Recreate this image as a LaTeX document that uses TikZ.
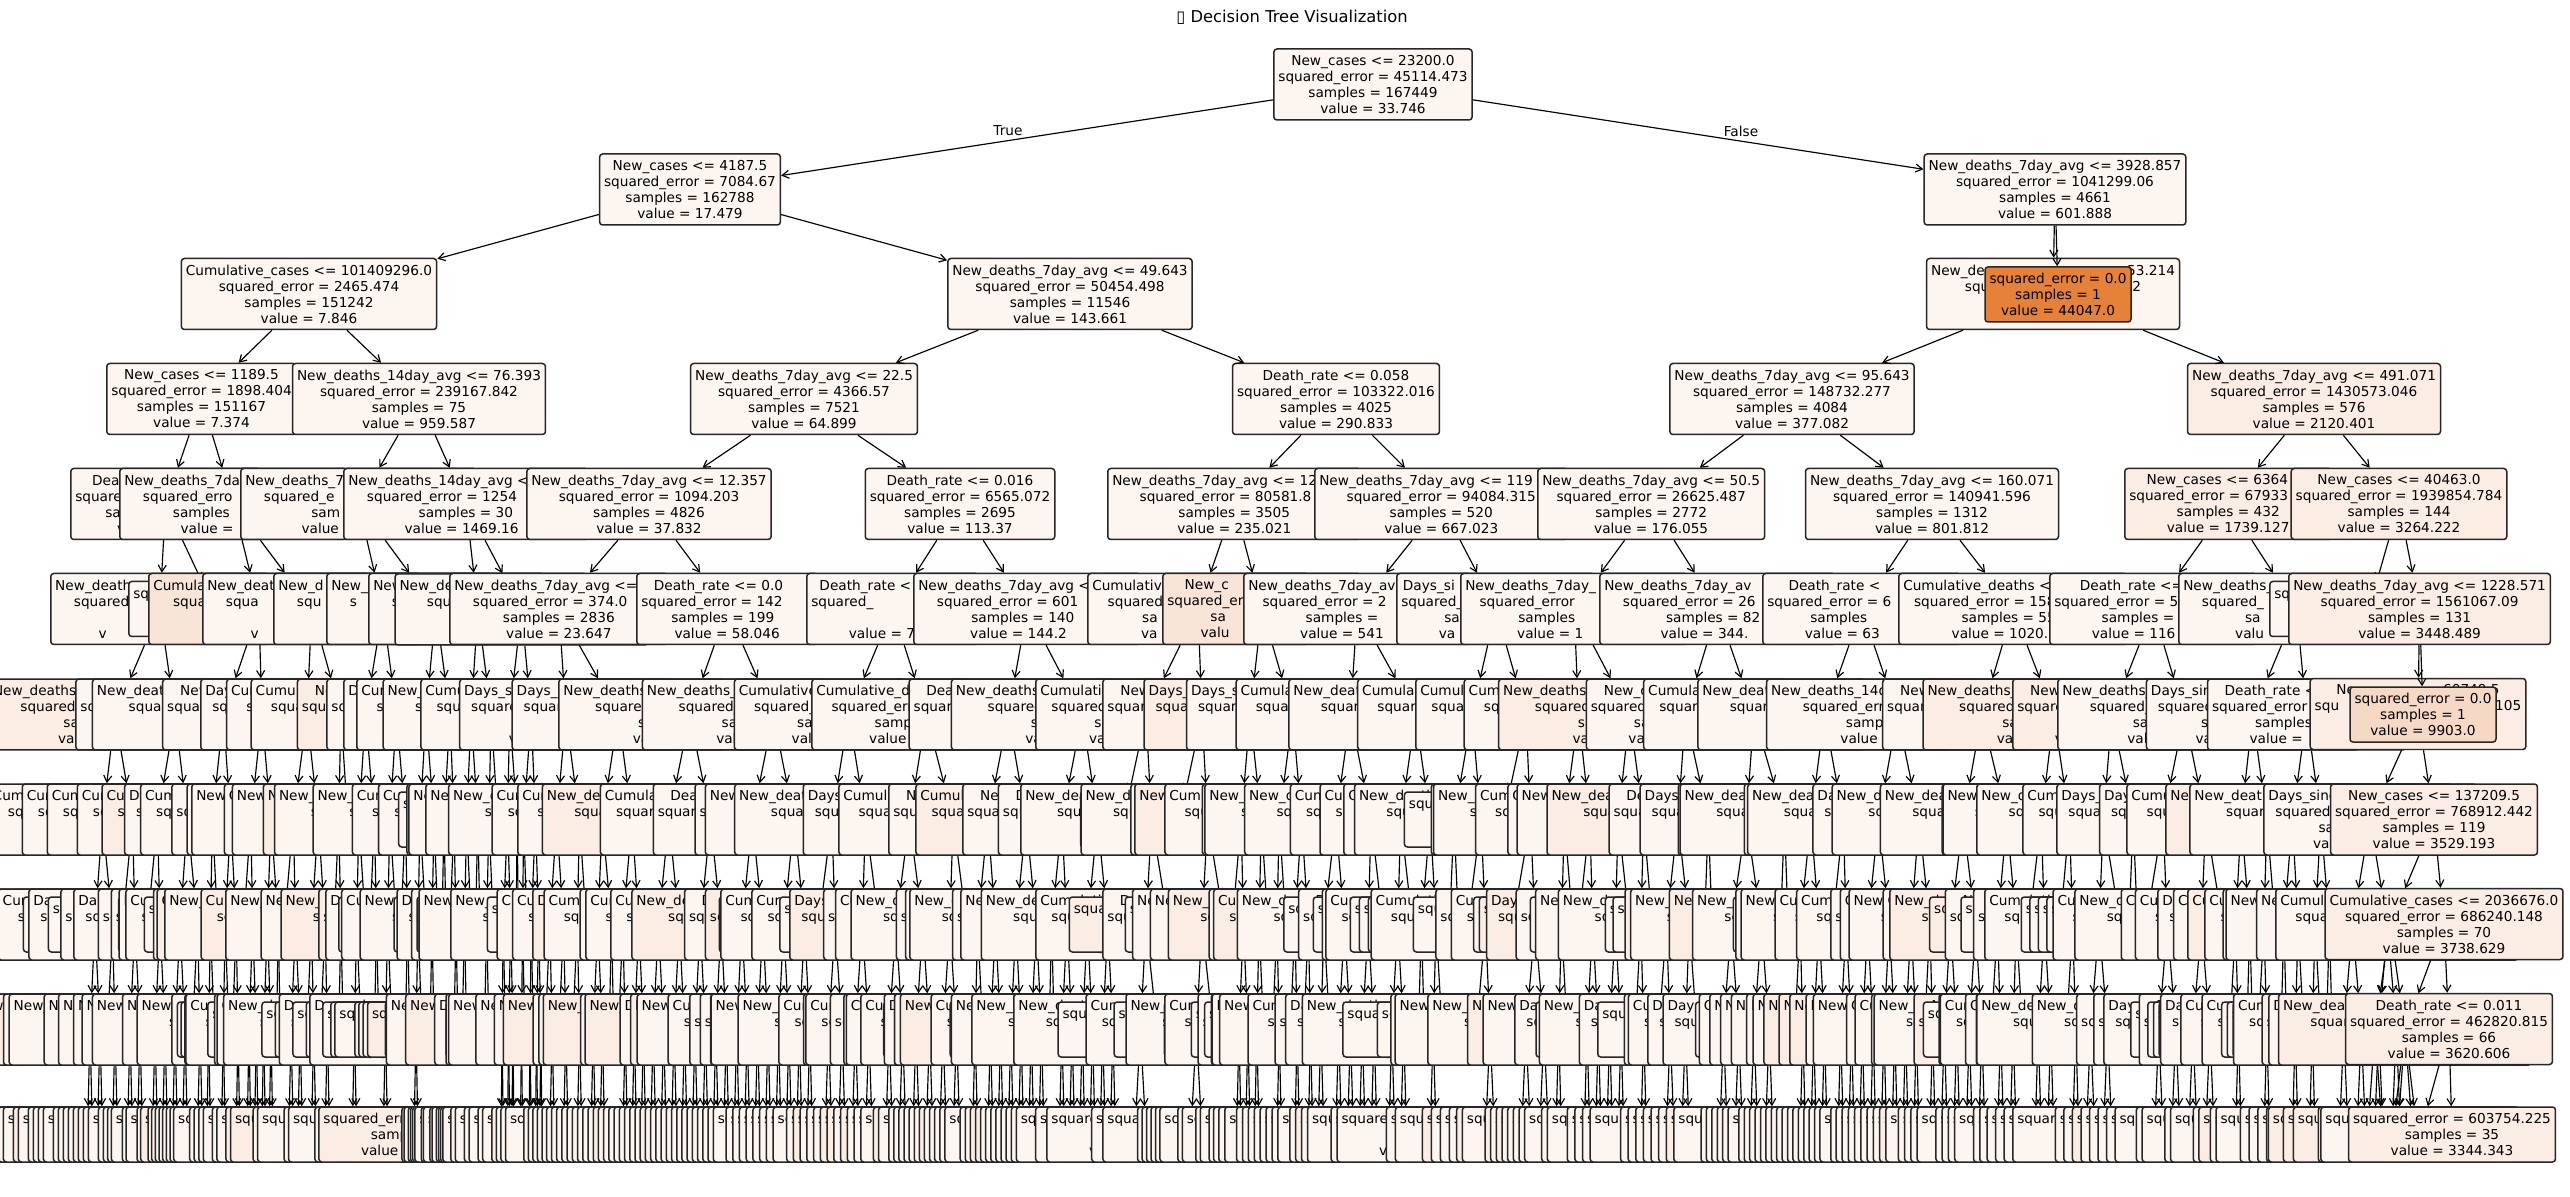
\documentclass[tikz,border=0pt]{standalone}
\usepackage{fontspec}
\setmainfont{DejaVu Sans}
\usetikzlibrary{arrows.meta}
\definecolor{tint}{HTML}{FCF5F0}
\definecolor{tintb}{HTML}{FBEDE3}
\definecolor{tintc}{HTML}{F9E5D7}
\definecolor{tintd}{HTML}{F6D9C4}
\definecolor{maxo}{HTML}{E58139}
\newcommand\fsN{\fontsize{4.1}{4.8}\selectfont}
\newcommand\fsT{\fontsize{4.9}{6}\selectfont}
\newcommand\hid[1]{\phantom{#1}}
% text of the deep nodes (mostly covered by their right neighbour)
\newcommand\feat[1]{\ifcase#1 New\_deaths\_7day\_avg\or Cumulative\_cases\or New\_cases\or New\_deaths\_14day\_avg\or Death\_rate\or Cumulative\_deaths\or Days\_since\_\hid{start}\else New\_deaths\_7day\_avg\fi}
\newcommand\itxt[1]{\feat{#1} <= \hid{000.000}\\squared\_error = \hid{00000.000}\\samples = \hid{000}\\value = \hid{000.000}}
\newcommand\ltxt{squared\_error = \hid{00000.000}\\samples = \hid{00}\\value = \hid{000.000}}
% pass 1: shape of a deep subtree (leaf flags, feature, fill, leaf count)
\newcommand\build[3]{% #1 path, #2 level, #3 chance to split below level 7
  \pgfmathsetmacro\kr{rnd}%
  \pgfmathtruncatemacro\kleaf{((#2>9) || ((#2>6) && (\kr>((#2==7) ? 0.9 : #3)))) ? 1 : 0}%
  \pgfmathtruncatemacro\kf{int(7*rnd)}%
  \pgfmathsetmacro\kr{rnd}%
  \expandafter\xdef\csname lf@#1\endcsname{\kleaf}%
  \expandafter\xdef\csname ft@#1\endcsname{\kf}%
  \expandafter\xdef\csname cl@#1\endcsname{\ifdim\kr pt>0.88pt tintb\else tint\fi}%
  \ifnum\kleaf=1
    \expandafter\xdef\csname nl@#1\endcsname{1}\let\next\relax
  \else
    \edef\next{\noexpand\build{#1a}{\the\numexpr#2+1\relax}{#3}%
      \noexpand\build{#1b}{\the\numexpr#2+1\relax}{#3}\noexpand\sumup{#1}}%
  \fi
  \next}
\newcommand\sumup[1]{\expandafter\xdef\csname nl@#1\endcsname{\the\numexpr\csname nl@#1a\endcsname+\csname nl@#1b\endcsname\relax}}
% pass 2: split the interval of a node by the leaf counts of its children
\newcommand\place[4]{% #1 path, #2 level, #3 a, #4 b
  \edef\na{\csname nl@#1a\endcsname}\edef\nn{\csname nl@#1\endcsname}%
  \pgfmathsetmacro\qm{#3+(#4-#3)*\na/\nn}%
  \edef\next{\noexpand\kid{#1}{a}{\the\numexpr#2+1\relax}{#3}{\qm}%
    \noexpand\kid{#1}{b}{\the\numexpr#2+1\relax}{\qm}{#4}}%
  \next}
\newcommand\kid[5]{% #1 parent, #2 tag, #3 level, #4 a, #5 b
  \pgfmathsetmacro\kx{(#4+#5)/2}%
  \pgfmathsetmacro\ky{84.5+105*#3}%
  \edef\kcol{\csname cl@#1#2\endcsname}%
  \ifnum\csname lf@#1#2\endcsname=1 \let\ktxt\ltxt\def\kstyle{lbox}%
  \else\edef\kf{\csname ft@#1#2\endcsname}\def\ktxt{\itxt{\kf}}\def\kstyle{tbox}\fi
  \node[\kstyle,fill=\kcol] (#1#2) at (\kx,\ky) {\ktxt};
  \draw[arr] (#1) -- (#1#2);
  \ifnum\csname lf@#1#2\endcsname=0 \edef\next{\noexpand\place{#1#2}{#3}{#4}{#5}}\else\let\next\relax\fi
  \next}
% a level-5 subtree: the wider its interval, the fuller it grows
\newcommand\growin[3]{\pgfmathsetmacro\gq{min(0.95,sqrt((#3-#2)/230))}%
  \edef\next{\noexpand\build{#1}{5}{\gq}}\next\place{#1}{5}{#2}{#3}}
\newcommand\branch[5]{\build{#1#2}{#3}{0.8}\kid{#1}{#2}{#3}{#4}{#5}}

\begin{document}
\begin{tikzpicture}[x=0.3pt,y=-0.3pt,
  tbox/.style={draw=black!85,line width=0.45pt,rounded corners=0.9pt,fill=tint,
    font=\fsN,align=center,inner xsep=1.35pt,inner ysep=0pt,minimum height=21.3pt},
  lbox/.style={tbox,minimum height=16.5pt},
  arr/.style={line width=0.35pt,-{Straight Barb[length=2pt,width=2.4pt]}},
  lab/.style={font=\fsN,inner sep=0}]
\pgfmathsetseed{23}
\fill[white] (0,0) rectangle (2570,1197);
\useasboundingbox (0,0) rectangle (2570,1197);
\node[font=\fsT,inner sep=0] (title) at (1292,17) {▯ Decision Tree Visualization};
% ============ levels 0-2 ============
\node[tbox] (root) at (1373,84.5) {New\_cases <= 23200.0\\squared\_error = 45114.473\\samples = 167449\\value = 33.746};
\node[tbox] (t1) at (690,189.5) {New\_cases <= 4187.5\\squared\_error = 7084.67\\samples = 162788\\value = 17.479};
\node[tbox] (f1) at (2055,189.5) {New\_deaths\_7day\_avg <= 3928.857\\squared\_error = 1041299.06\\samples = 4661\\value = 601.888};
\draw[arr] (root) -- (t1);
\draw[arr] (root) -- (f1);
\node[lab] (ltrue) at (1008,131) {True};
\node[lab] (lfalse) at (1741,131) {False};
\node[tbox] (t2a) at (309,294) {Cumulative\_cases <= 101409296.0\\squared\_error = 2465.474\\samples = 151242\\value = 7.846};
\node[tbox] (t2b) at (1070,294) {New\_deaths\_7day\_avg <= 49.643\\squared\_error = 50454.498\\samples = 11546\\value = 143.661};
\node[tbox] (f2a) at (2053,294) {New\_de\hid{aths\_7day\_avg <= 2}53.214\\squa\hid{red\_error = 1041}452\\\hid{samples = 4660}\\\hid{value = 400.000}};
\draw[arr] (t1) -- (t2a);
\draw[arr] (t1) -- (t2b);
\draw[arr] (f1) -- (f2a);
% ============ level 3 ============
\node[tbox,anchor=west] (t3a) at (106,399) {New\_cases <= 1189.5\\squared\_error = 1898.404\\samples = 151167\\value = 7.374};
\node[tbox] (t3b) at (419,399) {New\_deaths\_14day\_avg <= 76.393\\squared\_error = 239167.842\\samples = 75\\value = 959.587};
\node[tbox] (t3c) at (804,399) {New\_deaths\_7day\_avg <= 22.5\\squared\_error = 4366.57\\samples = 7521\\value = 64.899};
\node[tbox] (t3d) at (1336,399) {Death\_rate <= 0.058\\squared\_error = 103322.016\\samples = 4025\\value = 290.833};
\node[tbox] (f3a) at (1792,399) {New\_deaths\_7day\_avg <= 95.643\\squared\_error = 148732.277\\samples = 4084\\value = 377.082};
\node[tbox,fill=tintb] (f3b) at (2314,399) {New\_deaths\_7day\_avg <= 491.071\\squared\_error = 1430573.046\\samples = 576\\value = 2120.401};
\draw[arr] (t2a) -- (t3a);
\draw[arr] (t2a) -- (t3b);
\draw[arr] (t2b) -- (t3c);
\draw[arr] (t2b) -- (t3d);
\draw[arr] (f2a) -- (f3a);
\draw[arr] (f2a) -- (f3b);
% ============ level 4 ============
\node[tbox,anchor=west] (t4a) at (70,504) {Death\hid{\_rate <= 0.003}\\square\hid{d\_error = 1234.567}\\sam\hid{ples = 12345}\\v\hid{alue = 12.34}};
\node[tbox,anchor=west] (t4b) at (119,504) {New\_deaths\_7da\hid{y\_avg <= 12.5}\\squared\_erro\hid{r = 1234.567}\\samples\hid{ = 12345}\\value =\hid{ 12.345}};
\node[tbox,anchor=west] (t4c) at (240,504) {New\_deaths\_7\hid{day\_avg <= 112.5}\\squared\_e\hid{rror = 12345.678}\\sam\hid{ples = 45}\\value\hid{ = 400.100}};
\node[tbox,anchor=west] (t4d) at (343,504) {New\_deaths\_14day\_avg <\hid{= 100.5}\\squared\_error = 1254\hid{00.000}\\samples = 30\\value = 1469.16\hid{7}};
\node[tbox] (t4e) at (649,504) {New\_deaths\_7day\_avg <= 12.357\\squared\_error = 1094.203\\samples = 4826\\value = 37.832};
\node[tbox] (t4f) at (960,504) {Death\_rate <= 0.016\\squared\_error = 6565.072\\samples = 2695\\value = 113.37};
\node[tbox,anchor=west] (t4g) at (1107,504) {New\_deaths\_7day\_avg <= 12\hid{3.500}\\squared\_error = 80581.8\hid{00}\\samples = 3505\\value = 235.021};
\node[tbox,anchor=west] (t4h) at (1314,504) {New\_deaths\_7day\_avg <= 119\hid{.500}\\squared\_error = 94084.315\\samples = 520\\value = 667.023};
\node[tbox,anchor=west] (f4a) at (1537,504) {New\_deaths\_7day\_avg <= 50.5\\squared\_error = 26625.487\\samples = 2772\\value = 176.055};
\node[tbox] (f4b) at (1932,504) {New\_deaths\_7day\_avg <= 160.071\\squared\_error = 140941.596\\samples = 1312\\value = 801.812};
\node[tbox,anchor=west,fill=tintb] (f4c) at (2124,504) {New\_cases <= 6364\hid{8.5}\\squared\_error = 67933\hid{0.000}\\samples = 432\\value = 1739.127};
\node[tbox,fill=tintb] (f4d) at (2399,504) {New\_cases <= 40463.0\\squared\_error = 1939854.784\\samples = 144\\value = 3264.222};
\draw[arr] (t3a) -- (t4a);
\draw[arr] (t3a) -- (t4b);
\draw[arr] (t3b) -- (t4c);
\draw[arr] (t3b) -- (t4d);
\draw[arr] (t3c) -- (t4e);
\draw[arr] (t3c) -- (t4f);
\draw[arr] (t3d) -- (t4g);
\draw[arr] (t3d) -- (t4h);
\draw[arr] (f3a) -- (f4a);
\draw[arr] (f3a) -- (f4b);
\draw[arr] (f3b) -- (f4c);
\draw[arr] (f3b) -- (f4d);
% ============ level 5, each with its subtree ============
\node[tbox,anchor=west] (p1) at (50,609) {New\_death\hid{s\_7day\_avg <= 0.5}\\squared\hid{\_error = 100.000}\\\hid{samples = 10}\\v\hid{alue = 1000.000}};
\draw[arr] (t4a) -- (p1); \growin{p1}{85}{205}
\node[lbox,anchor=west] (p2) at (128,609) {sq\hid{uared\_error = 12.000}\\\hid{samples = 3}\\\hid{value = 10.0}};
\draw[arr] (t4a) -- (p2);
\node[tbox,anchor=west,fill=tintc] (p3) at (148,609) {Cumula\hid{tive\_cases <= 12345.0}\\square\hid{d\_error = 123.456}\\\hid{samples = 12}\\\hid{value = 1.0}};
\draw[arr] (t4b) -- (p3); \growin{p3}{205}{282}
\node[tbox,anchor=west] (p4) at (202,609) {New\_deat\hid{hs\_7day\_avg <= 1.5}\\squa\hid{red\_error = 123.456}\\\hid{samples = 12}\\v\hid{alue = 1000.500}};
\draw[arr] (t4b) -- (p4); \growin{p4}{282}{350}
\node[tbox,anchor=west] (p5) at (273,609) {New\_d\hid{eaths\_7day\_avg <= 1.5}\\squ\hid{ared\_error = 123.456}\\\hid{samples = 12}\\\hid{value = 1.5}};
\draw[arr] (t4c) -- (p5); \growin{p5}{350}{412}
\node[tbox,anchor=west] (p6) at (326,609) {New\_\hid{deaths\_7day\_avg <= 1.5}\\s\hid{quared\_error = 123.456}\\\hid{samples = 12}\\\hid{value = 1.5}};
\draw[arr] (t4c) -- (p6); \growin{p6}{412}{460}
\node[tbox,anchor=west] (p7) at (368,609) {New\_death\hid{s\_7day\_avg <= 1.5}\\square\hid{d\_error = 123.456}\\\hid{samples = 12}\\va\hid{lue = 1000.500}};
\draw[arr] (t4d) -- (p7); \growin{p7}{460}{500}
\branch{t4d}{x}{5}{500}{543}
\node[tbox,anchor=west] (p8) at (449,609) {New\_deaths\_7day\_avg <=\hid{ 1.5}\\squared\_error = 374.0\hid{00}\\samples = 2836\\value = 23.647};
\draw[arr] (t4e) -- (p8); \growin{p8}{543}{648}
\node[tbox,anchor=west] (p9) at (636,609) {Death\_rate <= 0.0\hid{05}\\squared\_error = 142\hid{.123}\\samples = 199\hid{0}\\value = 58.046};
\draw[arr] (t4e) -- (p9); \growin{p9}{648}{815}
\node[tbox,anchor=west] (p10) at (806,609) {Death\_rate <\hid{= 0.012}\\squared\_\hid{error = 1234.5}\\\hid{samples = 1}\\value = 79.8};
\draw[arr] (t4f) -- (p10); \growin{p10}{815}{970}
\node[tbox,anchor=west] (p11) at (913,609) {New\_deaths\_7day\_avg <=\hid{ 12.5}\\squared\_error = 601\hid{0.123}\\samples = 140\hid{0}\\value = 144.2\hid{00}};
\draw[arr] (t4f) -- (p11); \growin{p11}{970}{1118}
\node[tbox,anchor=west] (p12) at (1087,609) {Cumulativ\hid{e\_cases <= 12345.0}\\squared\hid{\_error = 1234.567}\\sa\hid{mples = 1234}\\va\hid{lue = 123.456}};
\draw[arr] (t4g) -- (p12); \growin{p12}{1118}{1230}
\node[tbox,anchor=west,fill=tintc] (p13) at (1162,609) {New\_c\hid{ases <= 1234.5}\\squared\_er\hid{ror = 12345.678}\\sa\hid{mples = 123}\\valu\hid{e = 1234.567}};
\draw[arr] (t4g) -- (p13); \growin{p13}{1230}{1315}
\node[tbox,anchor=west] (p14) at (1243,609) {New\_deaths\_7day\_av\hid{g <= 12.5}\\squared\_error = 2\hid{1234.567}\\samples = \hid{123}\\value = 541\hid{.123}};
\draw[arr] (t4h) -- (p14); \growin{p14}{1315}{1445}
\node[tbox,anchor=west] (p15) at (1396,609) {Days\_si\hid{nce\_start <= 123.5}\\squared\_\hid{error = 12345.678}\\sa\hid{mples = 123}\\va\hid{lue = 123.456}};
\draw[arr] (t4h) -- (p15); \growin{p15}{1445}{1553}
\node[tbox,anchor=west] (p16) at (1460,609) {New\_deaths\_7day\_\hid{avg <= 12.5}\\squared\_error\hid{ = 12345.678}\\samples\hid{ = 1234}\\value = 1\hid{23.456}};
\draw[arr] (f4a) -- (p16); \growin{p16}{1553}{1655}
\node[tbox,anchor=west] (p17) at (1599,609) {New\_deaths\_7day\_av\hid{g <= 123.5}\\squared\_error = 26\hid{123.456}\\samples = 82\hid{0}\\value = 344.\hid{123}};
\draw[arr] (f4a) -- (p17); \growin{p17}{1655}{1792}
\node[tbox,anchor=west] (p18) at (1762,609) {Death\_rate <\hid{= 0.012}\\squared\_error = 6\hid{1234.567}\\samples\hid{ = 632}\\value = 63\hid{0.123}};
\draw[arr] (f4b) -- (p18); \growin{p18}{1792}{1938}
\node[tbox,anchor=west] (p19) at (1898,609) {Cumulative\_deaths <= \hid{12345.0}\\squared\_error = 158\hid{123.456}\\samples = 55\hid{0}\\value = 1020.8\hid{12}};
\draw[arr] (f4b) -- (p19); \growin{p19}{1938}{2082}
\node[tbox,anchor=west] (p20) at (2049,609) {Death\_rate <= \hid{0.012}\\squared\_error = 5\hid{12345.678}\\samples = \hid{300}\\value = 116\hid{0.123}};
\draw[arr] (f4c) -- (p20); \growin{p20}{2082}{2227}
\node[tbox,anchor=west] (p21) at (2178,609) {New\_deaths\_\hid{7day\_avg <= 123.5}\\squared\_\hid{error = 12345.678}\\sa\hid{mples = 123}\\valu\hid{e = 1234.567}};
\draw[arr] (f4c) -- (p21); \growin{p21}{2227}{2335}
\node[lbox,anchor=west] (p22) at (2269,609) {sq\hid{uared\_error = 12345.678}\\\hid{samples = 13}\\\hid{value = 1234.5}};
\draw[arr] (f4d) -- (p22);
\node[tbox,anchor=west,fill=tintb] (p23) at (2288,609) {New\_deaths\_7day\_avg <= 1228.571\\squared\_error = 1561067.09\\samples = 131\\value = 3448.489};
\draw[arr] (f4d) -- (p23);
% ============ right-hand chain ============
\node[tbox,fill=tintb] (c6) at (2418,714) {Ne\hid{w\_cases <= }60749.5\\squ\hid{ared\_error = 1234567.}105\\\hid{samples = 130}\\\hid{value = 3500.000}};
\draw[arr] (p23) -- (c6);
\branch{c6}{x}{7}{2335}{2405}
\node[tbox,fill=tintb] (c7) at (2434,819.5) {New\_cases <= 137209.5\\squared\_error = 768912.442\\samples = 119\\value = 3529.193};
\draw[arr] (c6) -- (c7);
\branch{c7}{x}{8}{2360}{2420}
\node[tbox,fill=tintb] (c8) at (2444,924) {Cumulative\_cases <= 2036676.0\\squared\_error = 686240.148\\samples = 70\\value = 3738.629};
\draw[arr] (c7) -- (c8);
\branch{c8}{x}{9}{2380}{2430}
\node[tbox,fill=tintb] (c9) at (2449,1029) {Death\_rate <= 0.011\\squared\_error = 462820.815\\samples = 66\\value = 3620.606};
\draw[arr] (c8) -- (c9);
\branch{c9}{x}{10}{2400}{2440}
\node[lbox,fill=tintb] (c10) at (2452,1134.5) {squared\_error = 603754.225\\samples = 35\\value = 3344.343};
\draw[arr] (c9) -- (c10);
\node[lbox,fill=tintd] (c6o) at (2423,714.5) {squared\_error = 0.0\\samples = 1\\value = 9903.0};
\draw[arr] (p23) -- (c6o);
% orange leaf of level 2 on top
\node[lbox,fill=maxo] (f2b) at (2058,294.5) {squared\_error = 0.0\\samples = 1\\value = 44047.0};
\draw[arr] (f1) -- (f2b);
\end{tikzpicture}
\end{document}
